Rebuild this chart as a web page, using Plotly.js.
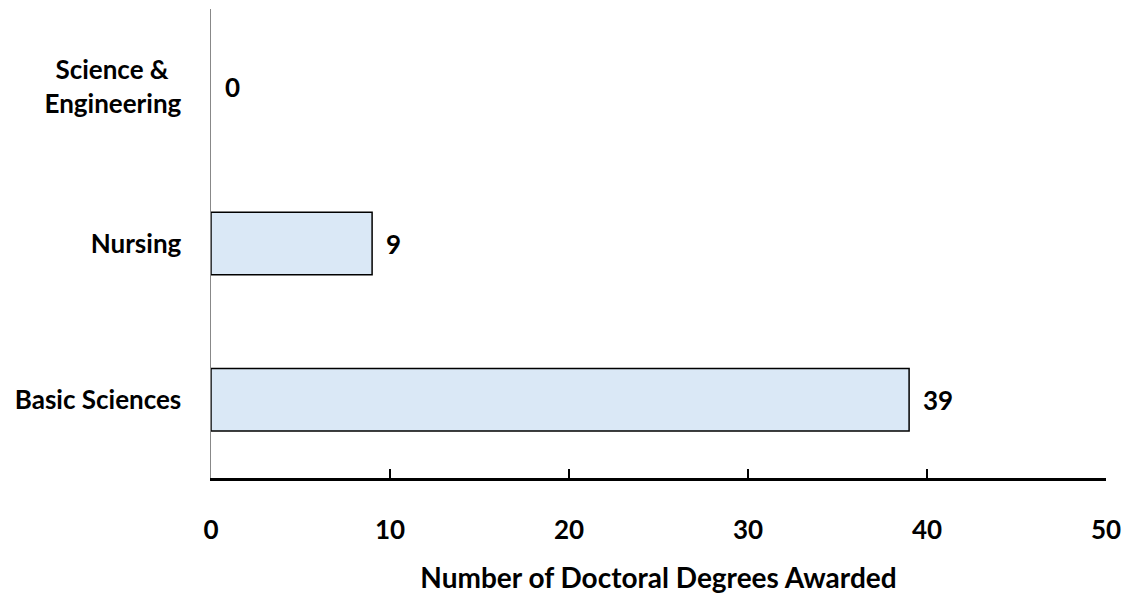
<!DOCTYPE html>
<html>
<head>
<meta charset="utf-8">
<script src="https://cdn.plot.ly/plotly-3.0.1.min.js"></script>
<style>html,body{margin:0;padding:0;background:#fff;}#chart{width:1130px;height:594px;}</style>
</head>
<body>
<div id="chart"></div>
<script>
const categories = ["Basic Sciences", "Nursing", "Science & Engineering"];
const categoryLabels = ["Basic Sciences", "Nursing", "Science &amp;&nbsp;&nbsp;<br>Engineering"];
const degrees = [39, 9, 0];
const xTickValues = [0, 10, 20, 30, 40, 50];
const xAxisTitle = "Number of Doctoral Degrees Awarded";

const FONT = "Lato, 'Open Sans', sans-serif";
const FS = 26;

const trace = {
  type: "bar",
  orientation: "h",
  x: degrees,
  y: categories,
  marker: {color: "#DAE8F6", line: {color: "#000000", width: degrees.map(v => v > 0 ? 1.5 : 0)}},
  hoverinfo: "skip"
};

const annotations = degrees.map((v, i) => ({
  x: v, y: categories[i], xref: "x", yref: "y",
  text: "<b>" + v + "</b>", showarrow: false,
  xanchor: "left", yanchor: "middle", xshift: 12,
  font: {family: FONT, size: FS, color: "#000"}
}));

const layout = {
  width: 1130, height: 594,
  margin: {l: 211, r: 24, t: 9, b: 116},
  paper_bgcolor: "#fff", plot_bgcolor: "#fff",
  showlegend: false,
  bargap: 0.6,
  font: {family: FONT, size: FS, color: "#000", weight: "bold"},
  xaxis: {
    range: [0, 50], tickvals: xTickValues, ticktext: xTickValues.map(String),
    showgrid: false, zeroline: false,
    showline: true, linecolor: "#000", linewidth: 3,
    ticks: "inside", ticklen: 9, tickwidth: 2, tickcolor: "#000",
    ticklabelstandoff: 27,
    tickfont: {family: FONT, size: FS, color: "#000", weight: "bold"},
    title: {text: xAxisTitle, standoff: 29, font: {family: FONT, size: 28, color: "#000", weight: "bold"}},
    automargin: false, fixedrange: true
  },
  yaxis: {
    type: "category", categoryorder: "array", categoryarray: categories,
    tickvals: categories, ticktext: categoryLabels,
    range: [-0.5, 2.5],
    showgrid: false, zeroline: false,
    showline: true, linecolor: "#888888", linewidth: 1.5,
    ticks: "", ticklabelstandoff: 23,
    tickfont: {family: FONT, size: FS, color: "#000", weight: "bold"},
    automargin: false, fixedrange: true
  },
  annotations: annotations
};

Plotly.newPlot("chart", [trace], layout, {displayModeBar: false, staticPlot: true});
</script>
</body>
</html>
